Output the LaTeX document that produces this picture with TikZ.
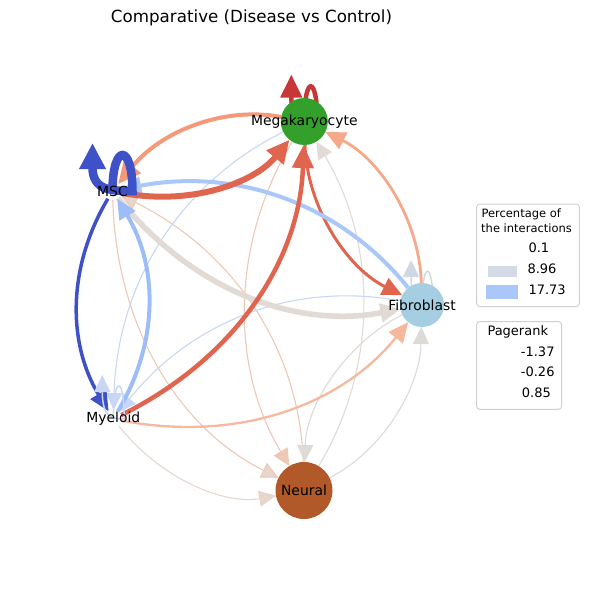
\documentclass[tikz,border=0pt]{standalone}
\usepackage{fontspec}
\setmainfont{DejaVu Sans}
\usetikzlibrary{arrows.meta,backgrounds,calc}
\definecolor{cM}{HTML}{33A02C}
\definecolor{cF}{HTML}{A6CEE3}
\definecolor{cN}{HTML}{B15928}
\definecolor{dred}{HTML}{C83737}
\definecolor{red1}{HTML}{E0654F}
\definecolor{sal1}{HTML}{F49A7B}
\definecolor{sal2}{HTML}{F5A98A}
\definecolor{sal3}{HTML}{F7B99E}
\definecolor{pink1}{HTML}{EEC8B4}
\definecolor{beige1}{HTML}{E2DAD4}
\definecolor{beige2}{HTML}{E6D6CC}
\definecolor{grey1}{HTML}{DEDAD7}
\definecolor{blue1}{HTML}{AAC7FA}
\definecolor{blue2}{HTML}{9DBDF9}
\definecolor{blue3}{HTML}{C8D7F5}
\definecolor{dblue}{HTML}{3F51C6}
\definecolor{loopF}{HTML}{D0D8E4}
\definecolor{patchA}{HTML}{D3DAE6}
\definecolor{frame}{HTML}{D0D0D0}
\tikzset{
  vert/.style={circle, draw=none, inner sep=0pt, outer sep=0pt},
  lab/.style={font=\fontsize{13.9pt}{16pt}\selectfont, inner sep=0pt, text=black},
  legtxt/.style={font=\fontsize{13pt}{15pt}\selectfont, inner sep=0pt, anchor=mid west},
  legtitle/.style={font=\fontsize{11.5pt}{14pt}\selectfont, inner sep=0pt, anchor=mid west},
  thintip/.style={-{Triangle[length=17pt,width=16pt]}},
  midtip/.style={-{Triangle[length=20pt,width=18pt]}},
  bigtip/.style={-{Triangle[length=23pt,width=21pt]}},
  hugetip/.style={-{Triangle[length=26pt,width=25pt]}},
  thin/.style={line width=1.1pt, thintip},
}
\newcommand\myedge[3]{%
  \path let \p1=(#1.center), \p2=(#2.center) in
    coordinate (c1) at ({\x1+(\x2-\x1)/3+0.2*(\y2-\y1)},{\y1+(\y2-\y1)/3-0.2*(\x2-\x1)})
    coordinate (c2) at ({\x1+2*(\x2-\x1)/3+0.2*(\y2-\y1)},{\y1+2*(\y2-\y1)/3-0.2*(\x2-\x1)});
  \draw[#3] (#1) .. controls (c1) and (c2) .. (#2);}
\newcommand\myloop[4]{%
  \draw[#4] (#1.center) .. controls ([shift={(0,-#3)}]#1.center) and ([shift={(#2,-#3)}]#1.center) .. ([shift={(#2,0)}]#1.center)
     .. controls (#1.center) and ([shift={(-#2,0)}]#1.center) .. ([shift={(-#2,-#3)}]#1.center);}

\begin{document}
\begin{tikzpicture}[x=1pt,y=-1pt]
\useasboundingbox (0,0) rectangle (589,590);

\node[font=\fontsize{16.7pt}{19pt}\selectfont, inner sep=0pt] (title) at (251.5,18) {Comparative (Disease vs Control)};

% vertices
\node[vert, minimum size=47pt, fill=cM, label={[lab]center:Megakaryocyte}] (M) at (304.3,121.5) {};
\node[vert, minimum size=18pt, label={[lab]center:MSC}] (S) at (112.5,191) {};
\node[vert, minimum size=44pt, fill=cF, label={[lab]center:Fibroblast}] (F) at (422,305) {};
\node[vert, minimum size=18pt, label={[lab]center:Myeloid}] (Y) at (113.3,419) {};
\node[vert, minimum size=57pt, fill=cN, label={[lab]center:Neural}] (N) at (304,490.5) {};

\begin{pgfonlayer}{background}
% thin edges
\myedge{Y}{N}{thin, draw=beige2}
\myedge{S}{N}{thin, draw=pink1, -{Triangle[length=17pt,width=16pt,fill=beige2]}}
\myedge{N}{S}{thin, draw=pink1, -{Triangle[length=17pt,width=16pt,fill=beige2]}}
\myedge{M}{N}{thin, draw=pink1}
\myedge{N}{M}{thin, draw=beige1}
\myedge{F}{N}{thin, draw=grey1}
\myedge{N}{F}{thin, draw=grey1}
\myedge{M}{Y}{thin, draw=blue3}
\myedge{F}{Y}{thin, draw=blue3}
% medium edges
\myedge{Y}{F}{line width=2.3pt, draw=sal3, midtip}
\myedge{F}{M}{line width=2.8pt, draw=sal2, midtip}
\myedge{M}{F}{line width=3pt, draw=red1, midtip}
\myedge{S}{F}{line width=5.5pt, draw=beige1, midtip}
\myedge{F}{S}{line width=4pt, draw=blue1, midtip}
\myedge{Y}{S}{line width=4pt, draw=blue2, midtip}
\myedge{S}{Y}{line width=3.5pt, draw=dblue, midtip}
\myedge{Y}{M}{line width=4.5pt, draw=red1, bigtip}
\myedge{M}{S}{line width=4pt, draw=sal1, bigtip}
\myedge{S}{M}{line width=6pt, draw=red1, bigtip}
% self loops
\myloop{M}{13}{47}{line width=4.5pt, draw=dred, bigtip}
\myloop{S}{20}{48}{line width=8.5pt, draw=dblue, hugetip}
\myloop{F}{11}{45}{line width=1.5pt, draw=loopF, thintip}
\myloop{Y}{11}{44}{line width=1.5pt, draw=blue3, thintip}
\end{pgfonlayer}

% legend 1
\draw[frame, line width=1pt, rounded corners=3pt] (476.7,204) rectangle (579.3,306.7);
\node[legtitle] (lt1) at (481.3,215) {Percentage of};
\node[legtitle] (lt2) at (481,229.5) {the interactions};
\node[legtxt] (l1) at (528.3,250) {0.1};
\fill[patchA] (488.3,266) rectangle (516.7,276.7);
\node[legtxt] (l2) at (527.3,271) {8.96};
\fill[blue1] (485.7,285) rectangle (518.3,299);
\node[legtxt] (l3) at (528.3,291.7) {17.73};

% legend 2
\draw[frame, line width=1pt, rounded corners=3pt] (476.7,321.7) rectangle (561.7,409.3);
\node[legtxt] (p0) at (487.3,332.7) {Pagerank};
\node[legtxt] (p1) at (520.7,353.3) {-1.37};
\node[legtxt] (p2) at (520.7,374) {-0.26};
\node[legtxt] (p3) at (521.7,395) {0.85};
\end{tikzpicture}
\end{document}
